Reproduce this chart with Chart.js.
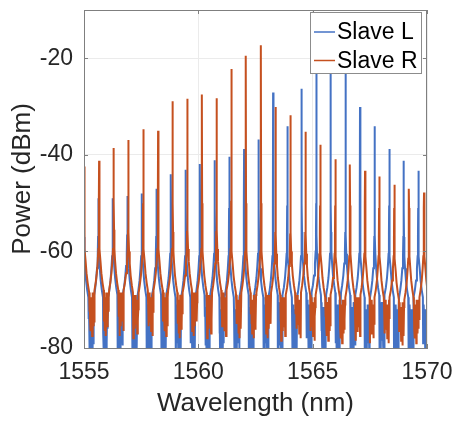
<!DOCTYPE html>
<html lang="en">

<head>
    <meta charset="UTF-8">
    <title>Slave L / Slave R spectrum</title>
    <script src="https://cdn.jsdelivr.net/npm/chart.js"></script>
    <style>
        body { margin: 0; background: #fff; }
        .box { width: 459px; height: 422px; }
    </style>
</head>

<body>
    <div class="box">
        <canvas id="myChart"></canvas>
    </div>
</body>

</html>
<script>

    // comb lines (nm, dBm)
    const peaksL = [1554.99, 1555.63, 1556.26, 1556.90, 1557.53, 1558.17, 1558.80, 1559.45, 1560.07, 1560.72, 1561.35, 1562.00,
        1562.64, 1563.27, 1563.89, 1564.52, 1565.16, 1565.79, 1566.44, 1567.07, 1567.71, 1568.35, 1568.98, 1569.62];
    const powerL = [-48, -49, -49, -48.5, -48, -47, -44, -43.1, -41.9, -41.1, -40.4, -38.8,
        -36.8, -27.1, -34.1, -26.3, -21, -19, -22, -30.1, -34.1, -38.8, -41.2, -43.3];

    const peaksR = [1555.01, 1555.66, 1556.30, 1556.94, 1557.59, 1558.24, 1558.88, 1559.52, 1560.16, 1560.80, 1561.44, 1562.08,
        1562.74, 1563.38, 1564.03, 1564.69, 1565.33, 1565.99, 1566.63, 1567.29, 1567.91, 1568.57, 1569.21, 1569.87];
    const powerR = [-42.4, -41.2, -38.6, -36.9, -34.7, -35.0, -28.9, -28.4, -27.5, -28.3, -22.2, -19.5,
        -17.3, -30.1, -31.8, -35.2, -37.9, -40.9, -42.0, -43.3, -44.5, -46.2, -47.0, -47.8];

    // valley floor after each line (dBm)
    const floorL = [-71, -71, -70.5, -71, -71, -70.5, -71, -71, -70.5, -71, -71, -70.5,
        -71, -70.5, -71, -70, -70.5, -70, -70.5, -71, -70.5, -71, -71, -71];
    const floorR = [-69.5, -69.5, -69.5, -70, -69.5, -69.5, -70, -69.5, -70, -69.5, -70, -70,
        -70, -70.5, -70, -70.5, -70.5, -71, -70.5, -71, -71, -71.5, -71, -71];

    // skirt of one line: distance from line centre (nm) / height above floor (dB)
    const skirtOffset = [0.006, 0.015, 0.03, 0.06, 0.1, 0.15, 0.2];
    const skirtRise = [20, 14, 10, 7.5, 5, 3, 1.5];

    // ripple seen in the valleys, dB relative to the floor
    const rippleL = [0, -3, -1, -6, -2, -9, -1, -11, -3, -12, -2, -13, -4, -12, -1, -13, -3, -11, -2, -12, -1, -8, 0, -5];
    const rippleR = [1, -3, 0, -5, -1, -7, 0, -4, -2, -8, 1, -3, -1, -6, 0, -5];

    const xTicks = [1555, 1560, 1565, 1570];
    const yTicks = [-80, -60, -40, -20];

    const corL = '#4472c4';
    const corR = '#c5501f';
    const corEixo = '#7f7f7f';
    const corTexto = '#262626';
    const fonte = 'Liberation Sans, Arial, Helvetica, sans-serif';

    function montarTraco(peaks, power, floor, ripple) {
        const pts = [];
        const ultimo = skirtOffset.length - 1;
        for (let i = 0; i < peaks.length; i++) {
            const p = peaks[i];
            const antes = i > 0 ? floor[i - 1] : floor[i];
            for (let k = ultimo; k >= 0; k--) {
                pts.push({ x: p - skirtOffset[k], y: Math.min(antes + skirtRise[k], power[i]) });
            }
            pts.push({ x: p, y: power[i] });
            for (let k = 0; k <= ultimo; k++) {
                pts.push({ x: p + skirtOffset[k], y: Math.min(floor[i] + skirtRise[k], power[i]) });
            }
            // valley up to the next line
            const a = p + skirtOffset[ultimo];
            const b = (i + 1 < peaks.length ? peaks[i + 1] : 1570.3) - skirtOffset[ultimo];
            const n = ripple.length;
            for (let k = 0; k < n; k++) {
                pts.push({ x: a + (b - a) * (k + 1) / (n + 1), y: floor[i] + ripple[(k + i * 3) % n] });
            }
        }
        return pts;
    }

    const tracoL = montarTraco(peaksL, powerL, floorL, rippleL);
    const tracoR = montarTraco(peaksR, powerR, floorR, rippleR);

    // box, inward ticks and legend like the MATLAB figure
    const molduraPlugin = {
        id: 'moldura',
        afterDatasetsDraw(chart) {
            const ctx = chart.ctx;
            const a = chart.chartArea;
            const sx = chart.scales.x;
            const sy = chart.scales.y;
            ctx.save();
            ctx.strokeStyle = corEixo;
            ctx.lineWidth = 1;
            ctx.strokeRect(Math.round(a.left) + 0.5, Math.round(a.top) + 0.5,
                Math.round(a.right - a.left) - 1, Math.round(a.bottom - a.top));
            ctx.beginPath();
            xTicks.forEach(v => {
                const x = Math.round(sx.getPixelForValue(v)) + 0.5;
                ctx.moveTo(x, a.bottom); ctx.lineTo(x, a.bottom - 4);
                ctx.moveTo(x, a.top); ctx.lineTo(x, a.top + 4);
            });
            yTicks.forEach(v => {
                const y = Math.round(sy.getPixelForValue(v)) + 0.5;
                ctx.moveTo(a.left, y); ctx.lineTo(a.left + 4, y);
                ctx.moveTo(a.right, y); ctx.lineTo(a.right - 4, y);
            });
            ctx.stroke();

            // legend
            const lx = Math.round(a.right) - 117;
            const ly = Math.round(a.top) + 2;
            ctx.fillStyle = '#ffffff';
            ctx.fillRect(lx, ly, 112, 62);
            ctx.strokeStyle = '#8c8c8c';
            ctx.strokeRect(lx + 0.5, ly + 0.5, 111, 61);
            const itens = [['Slave L', corL], ['Slave R', corR]];
            ctx.font = '23px ' + fonte;
            ctx.textBaseline = 'middle';
            itens.forEach((it, i) => {
                const yy = ly + 20 + i * 28.5;
                ctx.strokeStyle = it[1];
                ctx.lineWidth = 1.5;
                ctx.beginPath();
                ctx.moveTo(lx + 4, yy); ctx.lineTo(lx + 25, yy);
                ctx.stroke();
                ctx.fillStyle = '#000';
                ctx.fillText(it[0], lx + 27, yy + 1);
            });
            ctx.restore();
        }
    };

    var ctx1 = document.getElementById('myChart').getContext('2d');
    var myChart = new Chart(ctx1, {
        type: 'line',
        data: {
            datasets: [{
                label: 'Slave R',
                data: tracoR,
                borderColor: corR,
                borderWidth: 2,
                pointRadius: 0,
                tension: 0,
                order: 0
            }, {
                label: 'Slave L',
                data: tracoL,
                borderColor: corL,
                borderWidth: 2,
                pointRadius: 0,
                tension: 0,
                order: 1
            }]
        },
        options: {
            animation: false,
            responsive: true,
            maintainAspectRatio: false,
            layout: { padding: { left: 0, right: 32, top: 10, bottom: 0 } },
            plugins: {
                legend: { display: false },
                tooltip: { enabled: false }
            },
            scales: {
                x: {
                    type: 'linear',
                    min: 1555,
                    max: 1570,
                    afterBuildTicks: s => { s.ticks = xTicks.map(v => ({ value: v })); },
                    afterFit: s => { s.height = 74; s.paddingLeft = 0; s.paddingRight = 0; },
                    ticks: { padding: 11, color: corTexto, font: { family: fonte, size: 23 }, callback: v => String(v) },
                    grid: { color: '#ebebeb', drawTicks: false },
                    border: { color: corEixo },
                    title: {
                        display: true,
                        text: 'Wavelength (nm)',
                        color: corTexto,
                        font: { family: fonte, size: 26 },
                        padding: { top: 0, bottom: 3 }
                    }
                },
                y: {
                    min: -80,
                    max: -10,
                    afterBuildTicks: s => { s.ticks = yTicks.map(v => ({ value: v })); },
                    afterFit: s => { s.width = 84; s.paddingTop = 0; s.paddingBottom = 0; },
                    ticks: { padding: 11, color: corTexto, font: { family: fonte, size: 23 }, callback: v => String(v) },
                    grid: { color: '#ebebeb', drawTicks: false },
                    border: { color: corEixo },
                    title: {
                        display: true,
                        text: 'Power (dBm)',
                        color: corTexto,
                        font: { family: fonte, size: 26 },
                        padding: { top: 7, bottom: 0 }
                    }
                }
            }
        },
        plugins: [molduraPlugin]
    });

</script>
